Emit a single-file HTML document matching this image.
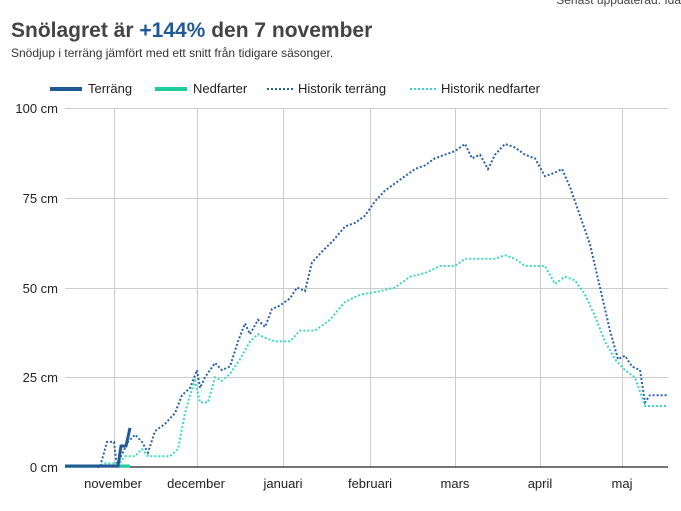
<!DOCTYPE html>
<html><head><meta charset="utf-8"><style>
body{margin:0;background:#fff;width:681px;height:506px;overflow:hidden;font-family:"Liberation Sans",Arial,sans-serif;}
</style></head><body>
<svg width="681" height="506" xmlns="http://www.w3.org/2000/svg" font-family="Liberation Sans, Arial, sans-serif">
<text x="681" y="4" text-anchor="end" font-size="12" fill="#444">Senast uppdaterad: Ida</text>
<text x="11" y="37" font-size="21" font-weight="bold" fill="#444">Snölagret är <tspan fill="#1f5a96">+144%</tspan> den 7 november</text>
<text x="11" y="57" font-size="12" fill="#333">Snödjup i terräng jämfört med ett snitt från tidigare säsonger.</text>
<g font-size="13" fill="#222">
<line x1="50" y1="89" x2="82" y2="89" stroke="#1f5a96" stroke-width="4"/><text x="88" y="93">Terräng</text>
<line x1="155" y1="89" x2="187" y2="89" stroke="#1fcc9e" stroke-width="4"/><text x="193" y="93">Nedfarter</text>
<line x1="267" y1="89" x2="293" y2="89" stroke="#2a62a8" stroke-width="2" stroke-dasharray="2,2"/><text x="298" y="93">Historik terräng</text>
<line x1="410" y1="89" x2="436" y2="89" stroke="#38d9c0" stroke-width="2" stroke-dasharray="2,2"/><text x="441" y="93">Historik nedfarter</text>
</g>
<g stroke="#ccc" stroke-width="1">
<line x1="65" y1="108.5" x2="668" y2="108.5"/><line x1="65" y1="198.5" x2="668" y2="198.5"/>
<line x1="65" y1="288.5" x2="668" y2="288.5"/><line x1="65" y1="377.5" x2="668" y2="377.5"/>
<line x1="114.5" y1="108" x2="114.5" y2="467"/><line x1="197.5" y1="108" x2="197.5" y2="467"/>
<line x1="283.5" y1="108" x2="283.5" y2="467"/><line x1="370.5" y1="108" x2="370.5" y2="467"/>
<line x1="455.5" y1="108" x2="455.5" y2="467"/><line x1="540.5" y1="108" x2="540.5" y2="467"/>
<line x1="622.5" y1="108" x2="622.5" y2="467"/>
</g>
<line x1="65" y1="467" x2="668" y2="467" stroke="#222" stroke-width="1.2"/>
<g font-size="13" fill="#222" text-anchor="end">
<text x="58" y="113">100 cm</text><text x="58" y="203">75 cm</text><text x="58" y="293">50 cm</text><text x="58" y="382">25 cm</text><text x="58" y="472">0 cm</text>
</g>
<g font-size="13" fill="#222" text-anchor="middle">
<text x="113" y="488">november</text><text x="196" y="488">december</text><text x="283" y="488">januari</text><text x="370" y="488">februari</text><text x="455" y="488">mars</text><text x="540" y="488">april</text><text x="622" y="488">maj</text>
</g>
<polyline id="ht" fill="none" stroke="#2a62a8" stroke-width="2" stroke-dasharray="2,2" points=""/>
<polyline id="hn" fill="none" stroke="#38d9c0" stroke-width="2" stroke-dasharray="2,2" points=""/>
<polyline fill="none" stroke="#1fcc9e" stroke-width="3" points="65,466 130,466"/>
<polyline fill="none" stroke="#1f5a96" stroke-width="3" points="65,466 118,466 121,446 126,446 130,428"/>
<script>
function pts(a){return a.map(p=>p[0]+','+(467-p[1]*3.59).toFixed(1)).join(' ');}
document.getElementById('ht').setAttribute('points',pts([[65,0],[100,0],[107,7],[114,7],[117,0],[121,3],[128,7],[135,9],[142,7],[148,4],[155,10],[165,12],[175,15],[182,20],[190,22],[197,27],[200,22],[205,25],[215,29],[222,27],[230,28],[238,35],[245,40],[250,37],[258,41],[265,39],[272,44],[280,45],[290,47],[297,50],[305,49],[312,57],[322,60],[333,63],[345,67],[355,68],[365,70],[375,74],[385,77],[395,79],[405,81],[415,83],[425,84],[435,86],[445,87],[455,88],[465,90],[472,86],[480,87],[488,83],[495,87],[505,90],[515,89],[525,87],[535,86],[545,81],[555,82],[562,83],[570,78],[580,70],[590,62],[600,50],[610,38],[618,30],[625,31],[632,28],[640,27],[645,18],[650,20],[668,20]]));
document.getElementById('hn').setAttribute('points',pts([[65,0],[95,0],[105,1],[115,1],[120,1],[125,3],[135,3],[142,5],[148,3],[160,3],[170,3],[178,5],[185,15],[190,20],[195,24],[200,18],[208,18],[215,25],[222,24],[230,26],[240,30],[250,35],[258,37],[265,36],[275,35],[290,35],[300,38],[315,38],[330,41],[345,46],[360,48],[380,49],[395,50],[410,53],[425,54],[440,56],[455,56],[465,58],[475,58],[485,58],[495,58],[505,59],[515,58],[525,56],[535,56],[545,56],[555,51],[565,53],[575,52],[585,48],[595,42],[605,35],[615,30],[625,27],[635,25],[645,17],[655,17],[668,17]]));
</script>
</svg>
</body></html>
